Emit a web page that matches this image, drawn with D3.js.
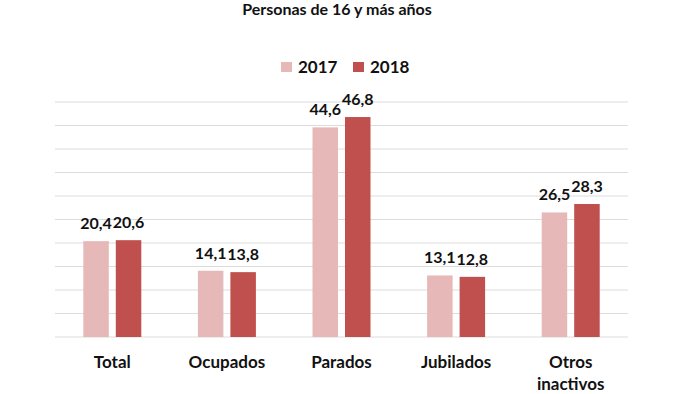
<!DOCTYPE html>
<html>
<head>
<meta charset="utf-8">
<script src="https://cdn.jsdelivr.net/npm/d3@7/dist/d3.min.js"></script>
<style>
  html, body { margin: 0; padding: 0; background: #fff; }
  svg { display: block; font-family: Lato, "Open Sans", sans-serif; }
</style>
</head>
<body>
<svg id="chart" width="700" height="394"></svg>
<script>
const title = "Personas de 16 y más años";
const categories = ["Total", "Ocupados", "Parados", "Jubilados", "Otros inactivos"];
const years = ["2017", "2018"];
const values2017 = [20.4, 14.1, 44.6, 13.1, 26.5];
const values2018 = [20.6, 13.8, 46.8, 12.8, 28.3];
const yTicks = [0, 5, 10, 15, 20, 25, 30, 35, 40, 45, 50];
const colors = ["#E6B9B8", "#C0504D"];

(function () {
const seriesValues = [values2017, values2018];
const data = categories.map((c, i) => ({
  cat: c,
  vals: years.map((yr, j) => ({ year: yr, value: seriesValues[j][i], color: colors[j] }))
}));

const svg = d3.select("#chart");
const pLeft = 55, pRight = 628, pTop = 102, pBottom = 337;

const x0 = d3.scaleBand().domain(categories).range([pLeft, pRight]).paddingInner(0).paddingOuter(0);
const bw = x0.bandwidth();
const x1 = d3.scaleBand().domain(years).range([bw * 0.247, bw * 0.753]).paddingInner(0.215).paddingOuter(0);
const y = d3.scaleLinear().domain([0, 50]).range([pBottom, pTop]);

// gridlines
svg.append("g").selectAll("line").data(yTicks).join("line")
  .attr("x1", pLeft).attr("x2", pRight)
  .attr("y1", d => y(d)).attr("y2", d => y(d))
  .attr("stroke", "#DCDCDC").attr("stroke-width", 1);

// title
svg.append("text").attr("x", 337).attr("y", 15)
  .attr("text-anchor", "middle").attr("font-weight", "bold")
  .attr("font-size", 16).attr("fill", "#111").text(title);

// legend
const legendItems = [
  { label: years[0], color: colors[0], sx: 281, tx: 298 },
  { label: years[1], color: colors[1], sx: 353, tx: 370 }
];
const lg = svg.append("g");
lg.selectAll("rect").data(legendItems).join("rect")
  .attr("x", d => d.sx).attr("y", 62).attr("width", 11).attr("height", 10)
  .attr("fill", d => d.color);
lg.selectAll("text").data(legendItems).join("text")
  .attr("x", d => d.tx).attr("y", 72.5)
  .attr("font-weight", "bold").attr("font-size", 17).attr("fill", "#111")
  .text(d => d.label);

// bars
const groups = svg.append("g").selectAll("g").data(data).join("g")
  .attr("transform", d => `translate(${x0(d.cat)},0)`);
groups.selectAll("rect").data(d => d.vals).join("rect")
  .attr("x", d => x1(d.year)).attr("width", x1.bandwidth())
  .attr("y", d => y(d.value)).attr("height", d => y(0) - y(d.value))
  .attr("fill", d => d.color);
groups.selectAll("text").data(d => d.vals).join("text")
  .attr("x", d => x1(d.year) + x1.bandwidth() / 2)
  .attr("y", d => y(d.value) - 12)
  .attr("text-anchor", "middle").attr("font-weight", "bold")
  .attr("font-size", 16).attr("fill", "#111")
  .text(d => d3.format(".1f")(d.value).replace(".", ","));

// category labels
const catG = svg.append("g");
categories.forEach(c => {
  const words = c === "Otros inactivos" ? ["Otros", "inactivos"] : [c];
  const t = catG.append("text")
    .attr("text-anchor", "middle").attr("font-weight", "bold")
    .attr("font-size", 17).attr("fill", "#111");
  words.forEach((w, i) => {
    t.append("tspan").attr("x", x0(c) + bw / 2).attr("y", 367.5 + i * 22).text(w);
  });
});
})();
</script>
</body>
</html>
